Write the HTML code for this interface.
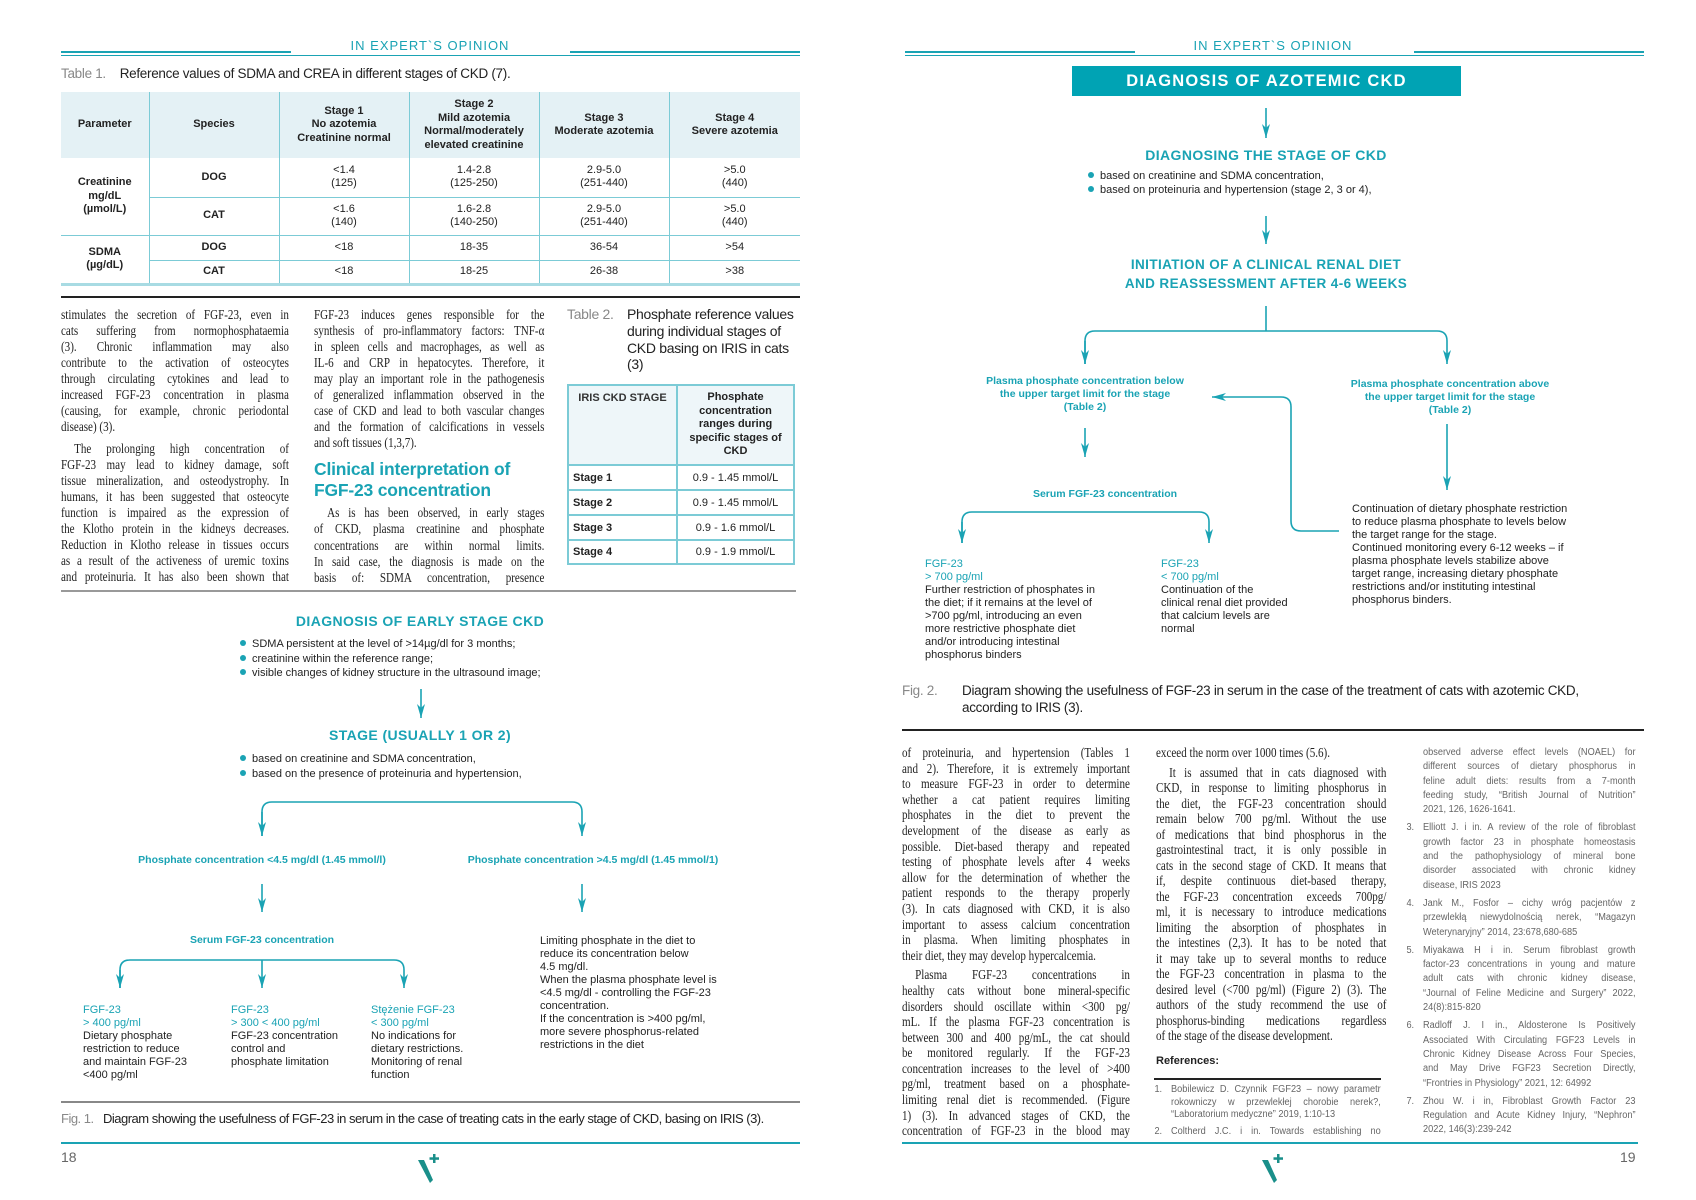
<!DOCTYPE html>
<html><head><meta charset="utf-8">
<style>
*{margin:0;padding:0;box-sizing:border-box}
body{width:1696px;height:1200px;background:#fff;position:relative;overflow:hidden;font-family:"Liberation Sans","DejaVu Sans",sans-serif;color:#222}
.a{position:absolute}
.hdr{position:absolute;top:38px;font-size:13px;letter-spacing:1px;color:#1aa3b4;width:300px;text-align:center}
.cap{position:absolute;font-size:13.5px;color:#222;font-family:"Liberation Sans",sans-serif;letter-spacing:-0.3px}
.cap .g{color:#888}
.col{position:absolute;transform-origin:0 0;font-family:"Liberation Serif",serif;font-size:13.5px;color:#222}
.col div{overflow:hidden;text-align:justify;text-align-last:justify}
.col div.l{text-align-last:left}
.col div.i{text-indent:16px}
.ref{position:absolute;transform-origin:0 0;font-size:10px;color:#666}
.ref div{height:14.3px;line-height:14.3px;overflow:hidden;text-align:justify;text-align-last:justify}
.ref div.l{text-align-last:left}
.ref .n{position:absolute;left:-18px}
table{border-collapse:collapse}
.t1 td{border-left:1.5px solid #7ccbd6;border-right:1.5px solid #7ccbd6;text-align:center;font-size:11px;line-height:13.5px;padding:0}
.th{font-weight:bold;background:#e4f1f5}
.h{position:absolute;font-weight:bold;color:#1aa3b4;text-align:center;white-space:nowrap}
.ft{position:absolute;font-size:11px;line-height:13px;color:#222;white-space:nowrap}
.ft b{color:#1aa3b4;font-weight:normal}
.bl{position:absolute;font-size:11px;line-height:14.5px;color:#222;white-space:nowrap}
.bl span{display:inline-block;width:6px;height:6px;border-radius:50%;background:#1aa3b4;margin-right:6px;vertical-align:1px}
.lbl{position:absolute;font-size:10.5px;line-height:13px;font-weight:bold;color:#1aa3b4;text-align:center;white-space:nowrap}
</style></head><body>

<div class="a" style="left:61px;top:51px;width:230px;height:2px;background:#1aa3b4"></div>
<div class="a" style="left:570px;top:51px;width:230px;height:2px;background:#1aa3b4"></div>
<div class="a" style="left:61px;top:55px;width:739px;height:1px;background:#1aa3b4"></div>
<div class="hdr" style="left:280px">IN EXPERT`S OPINION</div>
<div class="a" style="left:905px;top:51px;width:230px;height:2px;background:#1aa3b4"></div>
<div class="a" style="left:1414px;top:51px;width:230px;height:2px;background:#1aa3b4"></div>
<div class="a" style="left:905px;top:55px;width:739px;height:1px;background:#1aa3b4"></div>
<div class="hdr" style="left:1123px">IN EXPERT`S OPINION</div>

<div class="cap" style="left:61px;top:66px"><span class="g">Table 1.</span>&nbsp;&nbsp;&nbsp;&nbsp;Reference values of SDMA and CREA in different stages of CKD (7).</div>
<table class="t1 a" style="left:61px;top:92px;width:739px">
<colgroup><col style="width:88px"><col style="width:130px"><col style="width:130px"><col style="width:130px"><col style="width:130px"><col style="width:131px"></colgroup>
<tr style="height:66px"><td class="th" style="border-left:none">Parameter</td><td class="th">Species</td><td class="th">Stage 1<br>No azotemia<br>Creatinine normal</td><td class="th">Stage 2<br>Mild azotemia<br>Normal/moderately<br>elevated creatinine</td><td class="th">Stage 3<br>Moderate azotemia</td><td class="th" style="border-right:none">Stage 4<br>Severe azotemia</td></tr>
<tr style="height:39px"><td rowspan="2" style="font-weight:bold;border-left:none;border-bottom:1.5px solid #7ccbd6">Creatinine<br>mg/dL<br>(µmol/L)</td><td style="font-weight:bold;border-bottom:1.5px solid #7ccbd6">DOG</td><td style="border-bottom:1.5px solid #7ccbd6">&lt;1.4<br>(125)</td><td style="border-bottom:1.5px solid #7ccbd6">1.4-2.8<br>(125-250)</td><td style="border-bottom:1.5px solid #7ccbd6">2.9-5.0<br>(251-440)</td><td style="border-right:none;border-bottom:1.5px solid #7ccbd6">&gt;5.0<br>(440)</td></tr>
<tr style="height:38px"><td style="font-weight:bold;border-bottom:1.5px solid #7ccbd6">CAT</td><td style="border-bottom:1.5px solid #7ccbd6">&lt;1.6<br>(140)</td><td style="border-bottom:1.5px solid #7ccbd6">1.6-2.8<br>(140-250)</td><td style="border-bottom:1.5px solid #7ccbd6">2.9-5.0<br>(251-440)</td><td style="border-right:none;border-bottom:1.5px solid #7ccbd6">&gt;5.0<br>(440)</td></tr>
<tr style="height:25px"><td rowspan="2" style="font-weight:bold;border-left:none;border-bottom:3px solid #a8dbe3">SDMA<br>(µg/dL)</td><td style="font-weight:bold;border-bottom:1.5px solid #7ccbd6">DOG</td><td style="border-bottom:1.5px solid #7ccbd6">&lt;18</td><td style="border-bottom:1.5px solid #7ccbd6">18-35</td><td style="border-bottom:1.5px solid #7ccbd6">36-54</td><td style="border-right:none;border-bottom:1.5px solid #7ccbd6">&gt;54</td></tr>
<tr style="height:24px"><td style="font-weight:bold;border-bottom:3px solid #a8dbe3">CAT</td><td style="border-bottom:3px solid #a8dbe3">&lt;18</td><td style="border-bottom:3px solid #a8dbe3">18-25</td><td style="border-bottom:3px solid #a8dbe3">26-38</td><td style="border-right:none;border-bottom:3px solid #a8dbe3">&gt;38</td></tr>
</table>
<div class="a" style="left:61px;top:296px;width:739px;height:1.5px;background:#222"></div>

<div class="col" style="left:61px;top:307px;width:278px;transform:scaleX(0.82)">
<div style="height:16px;line-height:16px">stimulates the secretion of FGF-23, even in</div>
<div style="height:16px;line-height:16px">cats suffering from normophosphataemia</div>
<div style="height:16px;line-height:16px">(3). Chronic inflammation may also</div>
<div style="height:16px;line-height:16px">contribute to the activation of osteocytes</div>
<div style="height:16px;line-height:16px">through circulating cytokines and lead to</div>
<div style="height:16px;line-height:16px">increased FGF-23 concentration in plasma</div>
<div style="height:16px;line-height:16px">(causing, for example, chronic periodontal</div>
<div class="l" style="height:16px;line-height:16px">disease) (3).</div>
<div style="height:6px"></div>
<div class="i" style="height:16px;line-height:16px">The prolonging high concentration of</div>
<div style="height:16px;line-height:16px">FGF-23 may lead to kidney damage, soft</div>
<div style="height:16px;line-height:16px">tissue mineralization, and osteodystrophy. In</div>
<div style="height:16px;line-height:16px">humans, it has been suggested that osteocyte</div>
<div style="height:16px;line-height:16px">function is impaired as the expression of</div>
<div style="height:16px;line-height:16px">the Klotho protein in the kidneys decreases.</div>
<div style="height:16px;line-height:16px">Reduction in Klotho release in tissues occurs</div>
<div style="height:16px;line-height:16px">as a result of the activeness of uremic toxins</div>
<div style="height:16px;line-height:16px">and proteinuria. It has also been shown that</div>
</div>

<div class="col" style="left:314px;top:307px;width:281px;transform:scaleX(0.82)">
<div style="height:16px;line-height:16px">FGF-23 induces genes responsible for the</div>
<div style="height:16px;line-height:16px">synthesis of pro-inflammatory factors: TNF-α</div>
<div style="height:16px;line-height:16px">in spleen cells and macrophages, as well as</div>
<div style="height:16px;line-height:16px">IL-6 and CRP in hepatocytes. Therefore, it</div>
<div style="height:16px;line-height:16px">may play an important role in the pathogenesis</div>
<div style="height:16px;line-height:16px">of generalized inflammation observed in the</div>
<div style="height:16px;line-height:16px">case of CKD and lead to both vascular changes</div>
<div style="height:16px;line-height:16px">and the formation of calcifications in vessels</div>
<div class="l" style="height:16px;line-height:16px">and soft tissues (1,3,7).</div>
</div>
<div class="a" style="left:314px;top:459px;font-size:17.5px;line-height:21px;font-weight:bold;color:#1aa3b4;letter-spacing:-0.2px">Clinical interpretation of<br>FGF-23 concentration</div>
<div class="col" style="left:314px;top:505px;width:281px;transform:scaleX(0.82)">
<div class="i" style="height:16.3px;line-height:16.3px">As is has been observed, in early stages</div>
<div style="height:16.3px;line-height:16.3px">of CKD, plasma creatinine and phosphate</div>
<div style="height:16.3px;line-height:16.3px">concentrations are within normal limits.</div>
<div style="height:16.3px;line-height:16.3px">In said case, the diagnosis is made on the</div>
<div style="height:16.3px;line-height:16.3px">basis of: SDMA concentration, presence</div>
</div>

<div class="cap" style="left:567px;top:306px;font-size:14px"><span class="g">Table 2.</span></div>
<div class="cap" style="left:627px;top:306px;font-size:14px;line-height:16.8px">Phosphate reference values<br>during individual stages of<br>CKD basing on IRIS in cats<br>(3)</div>
<table class="a" style="left:567px;top:384px;width:228px;border:2px solid #7ccbd6;font-size:11px">
<tr style="height:80px;background:#eef6f9"><td style="width:109px;border-right:2px solid #7ccbd6;vertical-align:top;text-align:center;padding-top:6px;font-weight:bold;color:#333">IRIS CKD STAGE</td><td style="text-align:center;font-weight:bold;line-height:13.5px">Phosphate<br>concentration<br>ranges during<br>specific stages of<br>CKD</td></tr>
<tr style="height:25px"><td style="border-top:2px solid #7ccbd6;border-right:2px solid #7ccbd6;font-weight:bold;padding-left:4px">Stage 1</td><td style="border-top:2px solid #7ccbd6;text-align:center">0.9 - 1.45 mmol/L</td></tr>
<tr style="height:25px"><td style="border-top:2px solid #7ccbd6;border-right:2px solid #7ccbd6;font-weight:bold;padding-left:4px">Stage 2</td><td style="border-top:2px solid #7ccbd6;text-align:center">0.9 - 1.45 mmol/L</td></tr>
<tr style="height:25px"><td style="border-top:2px solid #7ccbd6;border-right:2px solid #7ccbd6;font-weight:bold;padding-left:4px">Stage 3</td><td style="border-top:2px solid #7ccbd6;text-align:center">0.9 - 1.6 mmol/L</td></tr>
<tr style="height:24px"><td style="border-top:2px solid #7ccbd6;border-right:2px solid #7ccbd6;font-weight:bold;padding-left:4px">Stage 4</td><td style="border-top:2px solid #7ccbd6;text-align:center">0.9 - 1.9 mmol/L</td></tr>
</table>
<div class="a" style="left:61px;top:590px;width:735px;height:1.5px;background:#999"></div>

<div class="h" style="left:200px;top:613px;width:440px;font-size:14px;letter-spacing:0.4px">DIAGNOSIS OF EARLY STAGE CKD</div>
<div class="bl" style="left:240px;top:637px"><span></span>SDMA persistent at the level of &gt;14µg/dl for 3 months;<br><span></span>creatinine within the reference range;<br><span></span>visible changes of kidney structure in the ultrasound image;</div>
<div class="h" style="left:200px;top:727px;width:440px;font-size:14px;letter-spacing:0.4px">STAGE (USUALLY 1 OR 2)</div>
<div class="bl" style="left:240px;top:752px"><span></span>based on creatinine and SDMA concentration,<br><span></span>based on the presence of proteinuria and hypertension,</div>
<div class="lbl" style="left:100px;top:854px;width:324px">Phosphate concentration &lt;4.5 mg/dl (1.45 mmol/l)</div>
<div class="lbl" style="left:440px;top:854px;width:306px">Phosphate concentration &gt;4.5 mg/dl (1.45 mmol/1)</div>
<div class="lbl" style="left:150px;top:934px;width:224px">Serum FGF-23 concentration</div>
<div class="ft" style="left:83px;top:1004px"><b>FGF-23<br>&gt; 400 pg/ml</b><br>Dietary phosphate<br>restriction to reduce<br>and maintain FGF-23<br>&lt;400 pg/ml</div>
<div class="ft" style="left:231px;top:1004px"><b>FGF-23<br>&gt; 300 &lt; 400 pg/ml</b><br>FGF-23 concentration<br>control and<br>phosphate limitation</div>
<div class="ft" style="left:371px;top:1004px"><b>Stężenie FGF-23<br>&lt; 300 pg/ml</b><br>No indications for<br>dietary restrictions.<br>Monitoring of renal<br>function</div>
<div class="ft" style="left:540px;top:935px">Limiting phosphate in the diet to<br>reduce its concentration below<br>4.5 mg/dl.<br>When the plasma phosphate level is<br>&lt;4.5 mg/dl - controlling the FGF-23<br>concentration.<br>If the concentration is &gt;400 pg/ml,<br>more severe phosphorus-related<br>restrictions in the diet</div>

<div class="a" style="left:61px;top:1101px;width:739px;height:1.5px;background:#888"></div>
<div class="cap" style="left:61px;top:1111px;font-size:13px;letter-spacing:-0.5px"><span class="g">Fig. 1.</span>&nbsp;&nbsp;&nbsp;Diagram showing the usefulness of FGF-23 in serum in the case of treating cats in the early stage of CKD, basing on IRIS (3).</div>
<div class="a" style="left:61px;top:1142px;width:739px;height:2px;background:#1aa3b4"></div>
<div class="a" style="left:61px;top:1149px;font-size:14px;color:#666">18</div>

<div class="a" style="left:1072px;top:66px;width:389px;height:30px;background:#00a3b4;color:#fff;font-weight:bold;font-size:16.5px;letter-spacing:1.2px;text-align:center;line-height:30px">DIAGNOSIS OF AZOTEMIC CKD</div>
<div class="h" style="left:1046px;top:147px;width:440px;font-size:14px;letter-spacing:0.4px">DIAGNOSING THE STAGE OF CKD</div>
<div class="bl" style="left:1088px;top:170px;line-height:13.8px"><span></span>based on creatinine and SDMA concentration,<br><span></span>based on proteinuria and hypertension (stage 2, 3 or 4),</div>
<div class="h" style="left:1046px;top:256px;width:440px;font-size:13.5px;letter-spacing:0.4px;line-height:18.5px">INITIATION OF A CLINICAL RENAL DIET<br>AND REASSESSMENT AFTER 4-6 WEEKS</div>
<div class="lbl" style="left:965px;top:375px;width:240px">Plasma phosphate concentration below<br>the upper target limit for the stage<br>(Table 2)</div>
<div class="lbl" style="left:1330px;top:378px;width:240px">Plasma phosphate concentration above<br>the upper target limit for the stage<br>(Table 2)</div>
<div class="lbl" style="left:990px;top:488px;width:230px">Serum FGF-23 concentration</div>
<div class="ft" style="left:925px;top:558px"><b>FGF-23<br>&gt; 700 pg/ml</b><br>Further restriction of phosphates in<br>the diet; if it remains at the level of<br>&gt;700 pg/ml, introducing an even<br>more restrictive phosphate diet<br>and/or introducing intestinal<br>phosphorus binders</div>
<div class="ft" style="left:1161px;top:558px"><b>FGF-23<br>&lt; 700 pg/ml</b><br>Continuation of the<br>clinical renal diet provided<br>that calcium levels are<br>normal</div>
<div class="ft" style="left:1352px;top:503px">Continuation of dietary phosphate restriction<br>to reduce plasma phosphate to levels below<br>the target range for the stage.<br>Continued monitoring every 6-12 weeks – if<br>plasma phosphate levels stabilize above<br>target range, increasing dietary phosphate<br>restrictions and/or instituting intestinal<br>phosphorus binders.</div>

<div class="cap" style="left:902px;top:682px;line-height:17px"><span class="g">Fig. 2.</span></div>
<div class="cap" style="left:962px;top:682px;line-height:17px">Diagram showing the usefulness of FGF-23 in serum in the case of the treatment of cats with azotemic CKD,<br>according to IRIS (3).</div>
<div class="a" style="left:902px;top:729px;width:742px;height:1.5px;background:#222"></div>

<div class="col" style="left:902px;top:745px;width:278px;transform:scaleX(0.82)">
<div style="height:15.6px;line-height:15.6px">of proteinuria, and hypertension (Tables 1</div>
<div style="height:15.6px;line-height:15.6px">and 2). Therefore, it is extremely important</div>
<div style="height:15.6px;line-height:15.6px">to measure FGF-23 in order to determine</div>
<div style="height:15.6px;line-height:15.6px">whether a cat patient requires limiting</div>
<div style="height:15.6px;line-height:15.6px">phosphates in the diet to prevent the</div>
<div style="height:15.6px;line-height:15.6px">development of the disease as early as</div>
<div style="height:15.6px;line-height:15.6px">possible. Diet-based therapy and repeated</div>
<div style="height:15.6px;line-height:15.6px">testing of phosphate levels after 4 weeks</div>
<div style="height:15.6px;line-height:15.6px">allow for the determination of whether the</div>
<div style="height:15.6px;line-height:15.6px">patient responds to the therapy properly</div>
<div style="height:15.6px;line-height:15.6px">(3). In cats diagnosed with CKD, it is also</div>
<div style="height:15.6px;line-height:15.6px">important to assess calcium concentration</div>
<div style="height:15.6px;line-height:15.6px">in plasma. When limiting phosphates in</div>
<div class="l" style="height:15.6px;line-height:15.6px">their diet, they may develop hypercalcemia.</div>
<div style="height:4px"></div>
<div class="i" style="height:15.6px;line-height:15.6px">Plasma FGF-23 concentrations in</div>
<div style="height:15.6px;line-height:15.6px">healthy cats without bone mineral-specific</div>
<div style="height:15.6px;line-height:15.6px">disorders should oscillate within &lt;300 pg/</div>
<div style="height:15.6px;line-height:15.6px">mL. If the plasma FGF-23 concentration is</div>
<div style="height:15.6px;line-height:15.6px">between 300 and 400 pg/mL, the cat should</div>
<div style="height:15.6px;line-height:15.6px">be monitored regularly. If the FGF-23</div>
<div style="height:15.6px;line-height:15.6px">concentration increases to the level of &gt;400</div>
<div style="height:15.6px;line-height:15.6px">pg/ml, treatment based on a phosphate-</div>
<div style="height:15.6px;line-height:15.6px">limiting renal diet is recommended. (Figure</div>
<div style="height:15.6px;line-height:15.6px">1) (3). In advanced stages of CKD, the</div>
<div style="height:15.6px;line-height:15.6px">concentration of FGF-23 in the blood may</div>
</div>

<div class="col" style="left:1156px;top:745px;width:281px;transform:scaleX(0.82)">
<div class="l" style="height:15.5px;line-height:15.5px">exceed the norm over 1000 times (5.6).</div>
<div style="height:4px"></div>
<div class="i" style="height:15.5px;line-height:15.5px">It is assumed that in cats diagnosed with</div>
<div style="height:15.5px;line-height:15.5px">CKD, in response to limiting phosphorus in</div>
<div style="height:15.5px;line-height:15.5px">the diet, the FGF-23 concentration should</div>
<div style="height:15.5px;line-height:15.5px">remain below 700 pg/ml. Without the use</div>
<div style="height:15.5px;line-height:15.5px">of medications that bind phosphorus in the</div>
<div style="height:15.5px;line-height:15.5px">gastrointestinal tract, it is only possible in</div>
<div style="height:15.5px;line-height:15.5px">cats in the second stage of CKD. It means that</div>
<div style="height:15.5px;line-height:15.5px">if, despite continuous diet-based therapy,</div>
<div style="height:15.5px;line-height:15.5px">the FGF-23 concentration exceeds 700pg/</div>
<div style="height:15.5px;line-height:15.5px">ml, it is necessary to introduce medications</div>
<div style="height:15.5px;line-height:15.5px">limiting the absorption of phosphates in</div>
<div style="height:15.5px;line-height:15.5px">the intestines (2,3). It has to be noted that</div>
<div style="height:15.5px;line-height:15.5px">it may take up to several months to reduce</div>
<div style="height:15.5px;line-height:15.5px">the FGF-23 concentration in plasma to the</div>
<div style="height:15.5px;line-height:15.5px">desired level (&lt;700 pg/ml) (Figure 2) (3). The</div>
<div style="height:15.5px;line-height:15.5px">authors of the study recommend the use of</div>
<div style="height:15.5px;line-height:15.5px">phosphorus-binding medications regardless</div>
<div class="l" style="height:15.5px;line-height:15.5px">of the stage of the disease development.</div>
</div>
<div class="a" style="left:1156px;top:1055px;font-size:11px;font-weight:bold;color:#222">References:</div>
<div class="a" style="left:1154px;top:1078px;width:227px;height:1.5px;background:#222"></div>
<div class="ref" style="left:1171px;top:1084px;width:228px;transform:scaleX(0.92)">
<div style="height:12.5px;line-height:12.5px"><span class="n">1.</span>Bobilewicz D. Czynnik FGF23 – nowy parametr</div>
<div style="height:12.5px;line-height:12.5px">rokowniczy w przewlekłej chorobie nerek?,</div>
<div class="l" style="height:12.5px;line-height:12.5px">“Laboratorium medyczne” 2019, 1:10-13</div>
<div style="height:4px"></div>
<div style="height:12.5px;line-height:12.5px"><span class="n">2.</span>Coltherd J.C. i in. Towards establishing no</div>
</div>

<div class="ref" style="left:1423px;top:746px;width:231px;transform:scaleX(0.92)">
<div>observed adverse effect levels (NOAEL) for</div>
<div>different sources of dietary phosphorus in</div>
<div>feline adult diets: results from a 7-month</div>
<div>feeding study, “British Journal of Nutrition”</div>
<div class="l">2021, 126, 1626-1641.</div>
<div style="height:4px"></div>
<div><span class="n">3.</span>Elliott J. i in. A review of the role of fibroblast</div>
<div>growth factor 23 in phosphate homeostasis</div>
<div>and the pathophysiology of mineral bone</div>
<div>disorder associated with chronic kidney</div>
<div class="l">disease, IRIS 2023</div>
<div style="height:4px"></div>
<div><span class="n">4.</span>Jank M., Fosfor – cichy wróg pacjentów z</div>
<div>przewlekłą niewydolnością nerek, “Magazyn</div>
<div class="l">Weterynaryjny” 2014, 23:678,680-685</div>
<div style="height:4px"></div>
<div><span class="n">5.</span>Miyakawa H i in. Serum fibroblast growth</div>
<div>factor-23 concentrations in young and mature</div>
<div>adult cats with chronic kidney disease,</div>
<div>“Journal of Feline Medicine and Surgery” 2022,</div>
<div class="l">24(8):815-820</div>
<div style="height:4px"></div>
<div><span class="n">6.</span>Radloff J. I in., Aldosterone Is Positively</div>
<div>Associated With Circulating FGF23 Levels in</div>
<div>Chronic Kidney Disease Across Four Species,</div>
<div>and May Drive FGF23 Secretion Directly,</div>
<div class="l">“Frontries in Physiology” 2021, 12: 64992</div>
<div style="height:4px"></div>
<div><span class="n">7.</span>Zhou W. i in, Fibroblast Growth Factor 23</div>
<div>Regulation and Acute Kidney Injury, “Nephron”</div>
<div class="l">2022, 146(3):239-242</div>
</div>

<div class="a" style="left:902px;top:1142px;width:736px;height:2px;background:#1aa3b4"></div>
<div class="a" style="left:1620px;top:1149px;font-size:14px;color:#666">19</div>

<svg class="a" style="left:0;top:0" width="1696" height="1200" viewBox="0 0 1696 1200">
<defs><marker id="ar" viewBox="0 0 14 8" refX="14" refY="4" markerWidth="14" markerHeight="8" markerUnits="userSpaceOnUse" orient="auto"><path d="M0 0 L4 4 L0 8 L14 4 Z" fill="#1aa3b4"/></marker></defs>
<g fill="none" stroke="#1aa3b4" stroke-width="1.6">
<path d="M421 689 V718" marker-end="url(#ar)"/>
<path d="M262 836 V812 Q262 802 272 802 H572 Q582 802 582 812 V836" marker-end="url(#ar)"/>
<path d="M262 812 V836" marker-end="url(#ar)"/>
<path d="M262 884 V912" marker-end="url(#ar)"/>
<path d="M582 884 V912" marker-end="url(#ar)"/>
<path d="M120 988 V970 Q120 960 130 960 H394 Q404 960 404 970 V988" marker-end="url(#ar)"/>
<path d="M120 970 V988" marker-end="url(#ar)"/>
<path d="M262 960 V988" marker-end="url(#ar)"/>
<path d="M1266 108 V138" marker-end="url(#ar)"/>
<path d="M1266 216 V244" marker-end="url(#ar)"/>
<path d="M1266 306 V331"/>
<path d="M1085 364 V341 Q1085 331 1095 331 H1437 Q1447 331 1447 341 V364" marker-end="url(#ar)"/>
<path d="M1085 341 V364" marker-end="url(#ar)"/>
<path d="M1085 428 V457" marker-end="url(#ar)"/>
<path d="M1447 424 V490" marker-end="url(#ar)"/>
<path d="M1339 531 H1301 Q1291 531 1291 521 V407 Q1291 397 1281 397 H1212" marker-end="url(#ar)"/>
<path d="M962 543 V522 Q962 512 972 512 H1199 Q1209 512 1209 522 V543" marker-end="url(#ar)"/>
<path d="M962 522 V543" marker-end="url(#ar)"/>
</g>
<g fill="#1a8f8a"><path d="M418 1160 L424 1160 L433 1180 L430 1183 Z"/><rect x="433" y="1154" width="2.5" height="9"/><rect x="429.5" y="1157.3" width="9.5" height="2.5"/></g>
<g fill="#1a8f8a"><path d="M1262 1160 L1268 1160 L1277 1180 L1274 1183 Z"/><rect x="1277" y="1154" width="2.5" height="9"/><rect x="1273.5" y="1157.3" width="9.5" height="2.5"/></g>
</svg>
</body></html>
